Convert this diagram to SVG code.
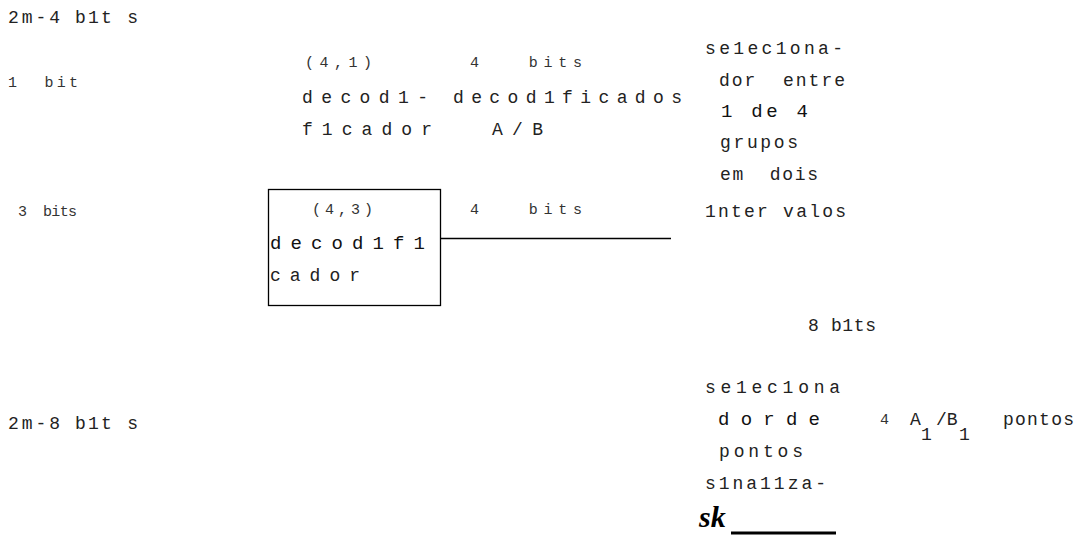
<svg xmlns="http://www.w3.org/2000/svg" width="1081" height="536" viewBox="0 0 1081 536">
<style>
text{font-family:"Liberation Mono","DejaVu Sans Mono",monospace;fill:#222;white-space:pre}
.m{font-size:18px}
.s{font-size:15px;fill:#333}
.b{font-size:19px;fill:#111}
.sk{font-family:"Liberation Serif",serif;font-weight:bold;font-style:italic;font-size:30px;fill:#000}
.ln{stroke:#000;stroke-width:1.3;fill:none}
</style>
<rect width="1081" height="536" fill="#fff"/>
<g id="left-labels">
<text class="m" x="8" y="23" textLength="52" lengthAdjust="spacing">2m-4</text>
<text class="m" x="75" y="23" textLength="63" lengthAdjust="spacing">b1t s</text>
<text class="s" x="8" y="87" textLength="70" lengthAdjust="spacing">1  bit</text>
<text class="s" x="18" y="216" textLength="59" lengthAdjust="spacing">3  bits</text>
<text class="m" x="8" y="429" textLength="52" lengthAdjust="spacing">2m-8</text>
<text class="m" x="75" y="429" textLength="63" lengthAdjust="spacing">b1t s</text>
</g>
<g id="decoder-41">
<text class="s" x="305" y="67" textLength="67" lengthAdjust="spacing">(4,1)</text>
<text class="m" x="302" y="103" textLength="126" lengthAdjust="spacing">decod1-</text>
<text class="m" x="302" y="135" textLength="130" lengthAdjust="spacing">f1cador</text>
</g>
<g id="decoded-label">
<text class="s" x="470" y="67" textLength="112" lengthAdjust="spacing">4   bits</text>
<text class="m" x="453" y="103" textLength="229" lengthAdjust="spacing">decod1ficados</text>
<text class="m" x="492" y="135" textLength="51" lengthAdjust="spacing">A/B</text>
</g>
<g id="decoder-43">
<rect class="ln" x="268.5" y="189.5" width="172" height="116"/>
<text class="s" x="312" y="214" textLength="61" lengthAdjust="spacing">(4,3)</text>
<text class="b" x="270" y="249" textLength="155" lengthAdjust="spacing">decod1f1</text>
<text class="m" x="270" y="281" textLength="90" lengthAdjust="spacing">cador</text>
</g>
<g id="bits-43">
<text class="s" x="470" y="214" textLength="112" lengthAdjust="spacing">4   bits</text>
</g>
<g id="connectors">
<line class="ln" x1="440.5" y1="238.5" x2="671" y2="238.5"/>
<line x1="731" y1="533" x2="836" y2="533" stroke="#000" stroke-width="3"/>
</g>
<g id="group-selector">
<text class="m" x="705" y="54" textLength="138" lengthAdjust="spacing">se1ec1ona-</text>
<text class="m" x="719" y="86" textLength="126" lengthAdjust="spacing">dor  entre</text>
<text class="b" x="721" y="117" textLength="87" lengthAdjust="spacing">1 de 4</text>
<text class="m" x="720" y="148" textLength="78" lengthAdjust="spacing">grupos</text>
<text class="m" x="720" y="180" textLength="98" lengthAdjust="spacing">em  dois</text>
<text class="m" x="705" y="217" textLength="141" lengthAdjust="spacing">1nter valos</text>
</g>
<g id="bits-8">
<text class="m" x="808" y="331" textLength="68" lengthAdjust="spacing">8 b1ts</text>
</g>
<g id="point-selector">
<text class="m" x="705" y="393" textLength="135" lengthAdjust="spacing">se1ec1ona</text>
<text class="b" x="718" y="425" textLength="102" lengthAdjust="spacing">dorde</text>
<text class="m" x="719" y="457" textLength="84" lengthAdjust="spacing">pontos</text>
<text class="m" x="705" y="489" textLength="121" lengthAdjust="spacing">s1na11za-</text>
<text class="sk" x="699" y="527">sk</text>
</g>
<g id="points-label">
<text class="s" x="880" y="424">4</text>
<text class="m" x="910" y="425">A</text>
<text class="m" x="936" y="425">/B</text>
<text class="m" x="921" y="440">1</text>
<text class="m" x="959" y="440">1</text>
<text class="m" x="1003" y="425" textLength="71" lengthAdjust="spacing">pontos</text>
</g>
</svg>
